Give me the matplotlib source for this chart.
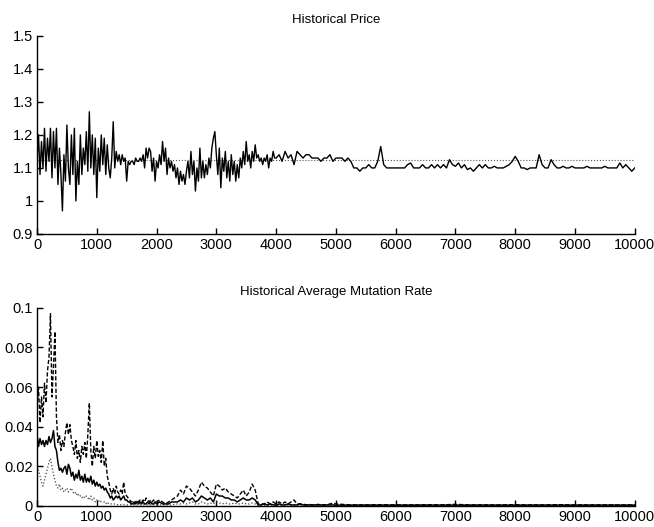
import numpy as np
import matplotlib
matplotlib.use('Agg')
import matplotlib.pyplot as plt

plt.rcParams['font.family'] = ['Liberation Sans', 'DejaVu Sans']
plt.rcParams.update({'font.size': 10.5})

# ---- historical price (0..3975 every 25, then 4000..10000 every 50) ----
price_fine = [
    1.12, 1.20, 1.08, 1.18, 1.10, 1.22, 1.09, 1.19, 1.12, 1.22,
    1.07, 1.21, 1.10, 1.22, 1.05, 1.16, 1.08, 0.97, 1.14, 1.06,
    1.23, 1.10, 1.05, 1.20, 1.08, 1.22, 1.00, 1.12, 1.05, 1.20,
    1.08, 1.16, 1.11, 1.21, 1.09, 1.27, 1.10, 1.20, 1.08, 1.19,
    1.01, 1.16, 1.09, 1.20, 1.11, 1.19, 1.08, 1.17, 1.10, 1.07,
    1.13, 1.24, 1.10, 1.15, 1.12, 1.14, 1.11, 1.14, 1.12, 1.13,
    1.06, 1.12, 1.11, 1.12, 1.12, 1.11, 1.13, 1.12, 1.12, 1.13,
    1.12, 1.14, 1.10, 1.16, 1.13, 1.16, 1.15, 1.09, 1.13, 1.06,
    1.12, 1.10, 1.14, 1.11, 1.18, 1.12, 1.16, 1.08, 1.13, 1.10,
    1.12, 1.09, 1.11, 1.07, 1.10, 1.05, 1.09, 1.06, 1.08, 1.05,
    1.09, 1.12, 1.07, 1.15, 1.08, 1.12, 1.03, 1.10, 1.06, 1.16,
    1.07, 1.12, 1.07, 1.11, 1.08, 1.13, 1.10, 1.16, 1.19, 1.21,
    1.14, 1.08, 1.16, 1.04, 1.13, 1.09, 1.15, 1.07, 1.12, 1.06,
    1.14, 1.08, 1.12, 1.06, 1.11, 1.07, 1.13, 1.10, 1.15, 1.11,
    1.18, 1.12, 1.14, 1.10, 1.15, 1.12, 1.17, 1.13, 1.14, 1.12,
    1.13, 1.11, 1.13, 1.12, 1.14, 1.10, 1.13, 1.12, 1.15, 1.13,
]
price_coarse = [
    1.13, 1.14, 1.12, 1.15, 1.13, 1.14, 1.11, 1.15, 1.14, 1.13,
    1.14, 1.14, 1.13, 1.13, 1.13, 1.12, 1.13, 1.13, 1.14, 1.12,
    1.13, 1.13, 1.13, 1.12, 1.13, 1.12, 1.10, 1.10, 1.09, 1.10,
    1.10, 1.11, 1.10, 1.10, 1.12, 1.165, 1.11, 1.10, 1.10, 1.10,
    1.10, 1.10, 1.10, 1.10, 1.11, 1.115, 1.10, 1.10, 1.10, 1.11,
    1.10, 1.10, 1.11, 1.10, 1.11, 1.10, 1.11, 1.10, 1.125, 1.11,
    1.105, 1.115, 1.10, 1.11, 1.095, 1.10, 1.09, 1.10, 1.11, 1.10,
    1.11, 1.10, 1.10, 1.105, 1.10, 1.10, 1.10, 1.105, 1.11, 1.12,
    1.135, 1.12, 1.10, 1.10, 1.095, 1.10, 1.10, 1.10, 1.14, 1.11,
    1.10, 1.10, 1.125, 1.11, 1.10, 1.10, 1.105, 1.10, 1.10, 1.105,
    1.10, 1.10, 1.10, 1.10, 1.105, 1.10, 1.10, 1.10, 1.10, 1.10,
    1.105, 1.10, 1.10, 1.10, 1.10, 1.115, 1.10, 1.11, 1.10, 1.09,
    1.10,
]
target_price = 1.124

# ---- average mutation rate (0..1975 every 25, 2000..4950 every 50, 5000..10000 every 250) ----
rate_dash_fine = [
    0.050, 0.060, 0.042, 0.055, 0.045, 0.062, 0.052, 0.068, 0.075, 0.097,
    0.055, 0.070, 0.088, 0.045, 0.032, 0.036, 0.028, 0.033, 0.030, 0.037,
    0.042, 0.036, 0.041, 0.033, 0.030, 0.026, 0.033, 0.024, 0.028, 0.022,
    0.030, 0.026, 0.032, 0.024, 0.036, 0.052, 0.028, 0.020, 0.030, 0.024,
    0.033, 0.025, 0.028, 0.022, 0.033, 0.020, 0.024, 0.015, 0.012, 0.008,
    0.006, 0.009, 0.006, 0.010, 0.007, 0.006, 0.008, 0.006, 0.012, 0.006,
    0.005, 0.004, 0.003, 0.002, 0.002, 0.001, 0.002, 0.003, 0.002, 0.003,
    0.002, 0.003, 0.002, 0.004, 0.003, 0.002, 0.003, 0.002, 0.003, 0.002,
]
rate_dash_mid = [
    0.002, 0.003, 0.002, 0.001, 0.002, 0.003, 0.004, 0.005, 0.008, 0.006,
    0.010, 0.009, 0.007, 0.005, 0.008, 0.012, 0.010, 0.009, 0.007, 0.005,
    0.011, 0.010, 0.008, 0.009, 0.007, 0.006, 0.005, 0.004, 0.006, 0.008,
    0.005, 0.007, 0.011, 0.008, 0.001, 0.001, 0.001, 0.002, 0.001, 0.002,
    0.001, 0.002, 0.001, 0.002, 0.001, 0.002, 0.003, 0.001, 0.001, 0.001,
    0.0005, 0.0008, 0.0005, 0.0005, 0.0008, 0.0005, 0.0005, 0.0005, 0.001, 0.0015,
]
rate_dash_coarse = [
    0.001, 0.0005, 0.0005, 0.0006, 0.0005, 0.0005, 0.0006, 0.0005, 0.0008, 0.0005,
    0.0005, 0.0005, 0.0006, 0.0005, 0.0005, 0.0006, 0.0005, 0.0005, 0.0005, 0.0005,
    0.0005,
]

rate_solid_fine = [
    0.036, 0.030, 0.034, 0.031, 0.033, 0.030, 0.033, 0.031, 0.035, 0.032,
    0.034, 0.038, 0.030, 0.028, 0.022, 0.018, 0.019, 0.017, 0.019, 0.020,
    0.016, 0.021, 0.019, 0.015, 0.017, 0.013, 0.016, 0.014, 0.018, 0.013,
    0.015, 0.012, 0.016, 0.012, 0.014, 0.012, 0.015, 0.011, 0.013, 0.010,
    0.012, 0.010, 0.011, 0.009, 0.010, 0.008, 0.009, 0.007, 0.006, 0.004,
    0.005, 0.003, 0.004, 0.005, 0.004, 0.005, 0.003, 0.004, 0.005, 0.003,
    0.003, 0.002, 0.002, 0.001, 0.001, 0.002, 0.001, 0.002, 0.001, 0.002,
    0.001, 0.002, 0.001, 0.001, 0.002, 0.001, 0.002, 0.001, 0.001, 0.002,
]
rate_solid_mid = [
    0.001, 0.002, 0.001, 0.001, 0.001, 0.002, 0.002, 0.002, 0.003, 0.002,
    0.004, 0.003, 0.004, 0.002, 0.003, 0.005, 0.004, 0.003, 0.004, 0.002,
    0.006, 0.005, 0.005, 0.004, 0.004, 0.003, 0.003, 0.002, 0.003, 0.004,
    0.003, 0.003, 0.004, 0.003, 0.0005, 0.0005, 0.001, 0.0005, 0.001, 0.0005,
    0.0005, 0.001, 0.0005, 0.0005, 0.001, 0.0005, 0.0005, 0.0005, 0.001, 0.0005,
    0.0005, 0.0005, 0.0005, 0.0005, 0.0005, 0.0005, 0.0005, 0.0005, 0.0005, 0.0005,
]
rate_solid_coarse = [0.0004] * 21

rate_dot_fine = [
    0.020, 0.018, 0.015, 0.012, 0.010, 0.013, 0.016, 0.019, 0.022, 0.024,
    0.020, 0.016, 0.013, 0.010, 0.009, 0.011, 0.008, 0.009, 0.007, 0.008,
    0.009, 0.007, 0.008, 0.009, 0.007, 0.006, 0.007, 0.005, 0.006, 0.005,
    0.004, 0.005, 0.004, 0.005, 0.004, 0.003, 0.005, 0.003, 0.004, 0.002,
    0.003, 0.002, 0.003, 0.002, 0.002, 0.002, 0.001, 0.002, 0.001, 0.001,
    0.001, 0.0008, 0.001, 0.0008, 0.0006, 0.0008, 0.0006, 0.0005, 0.0006, 0.0005,
    0.0005, 0.0005, 0.0005, 0.0005, 0.0005, 0.0005, 0.0005, 0.0005, 0.0005, 0.0005,
    0.0005, 0.0005, 0.0005, 0.0005, 0.0005, 0.0005, 0.0005, 0.0005, 0.0005, 0.0005,
]
rate_dot_mid = [
    0.0005, 0.0005, 0.0005, 0.0005, 0.0005, 0.0005, 0.0008, 0.001, 0.001, 0.0015,
    0.001, 0.0015, 0.002, 0.001, 0.001, 0.002, 0.0015, 0.001, 0.0015, 0.001,
    0.002, 0.0015, 0.001, 0.0015, 0.001, 0.001, 0.0015, 0.001, 0.001, 0.0015,
    0.001, 0.001, 0.0015, 0.001, 0.0003, 0.0003, 0.0003, 0.0003, 0.0003, 0.0003,
    0.0003, 0.0003, 0.0003, 0.0003, 0.0003, 0.0003, 0.0003, 0.0003, 0.0003, 0.0003,
    0.0003, 0.0003, 0.0003, 0.0003, 0.0003, 0.0003, 0.0003, 0.0003, 0.0003, 0.0003,
]
rate_dot_coarse = [0.0003] * 21

x_ticks = list(range(0, 10001, 1000))
price_ticks = [0.9, 1.0, 1.1, 1.2, 1.3, 1.4, 1.5]
price_tick_labels = ['0.9', '1', '1.1', '1.2', '1.3', '1.4', '1.5']
rate_ticks = [0, 0.02, 0.04, 0.06, 0.08, 0.1]
rate_tick_labels = ['0', '0.02', '0.04', '0.06', '0.08', '0.1']


def segment_x(start, step, values):
    return start + step * np.arange(len(values))


def join_segments(segments):
    xs = np.concatenate([segment_x(s, d, v) for s, d, v in segments])
    ys = np.concatenate([np.asarray(v, dtype=float) for _, _, v in segments])
    return xs, ys


def style_axes(ax):
    ax.spines['top'].set_visible(False)
    ax.spines['right'].set_visible(False)
    ax.spines['left'].set_linewidth(1.0)
    ax.spines['bottom'].set_linewidth(1.0)
    ax.tick_params(direction='in', length=4, width=1.0, labelsize=10.5, pad=3)
    ax.set_xlim(0, 10000)
    ax.set_xticks(x_ticks)


fig = plt.figure(figsize=(6.54, 5.27), dpi=100)
ax1 = fig.add_axes([0.0566, 0.556, 0.914, 0.376])
ax2 = fig.add_axes([0.0566, 0.040, 0.914, 0.376])

px, py = join_segments([(0, 25, price_fine), (4000, 50, price_coarse)])
ax1.plot([0, 10000], [target_price, target_price], color='#555555', linestyle=':', linewidth=0.8)
ax1.plot(px, py, color='black', linewidth=1.0)
style_axes(ax1)
ax1.set_ylim(0.9, 1.5)
ax1.set_yticks(price_ticks)
ax1.set_yticklabels(price_tick_labels)
ax1.set_title('Historical Price', fontsize=9.5, pad=9)

dx, dy = join_segments([(0, 25, rate_dash_fine), (2000, 50, rate_dash_mid), (5000, 250, rate_dash_coarse)])
sx, sy = join_segments([(0, 25, rate_solid_fine), (2000, 50, rate_solid_mid), (5000, 250, rate_solid_coarse)])
tx, ty = join_segments([(0, 25, rate_dot_fine), (2000, 50, rate_dot_mid), (5000, 250, rate_dot_coarse)])
ax2.plot(tx, ty, color='#444444', linestyle=':', linewidth=0.9)
ax2.plot(dx, dy, color='black', linestyle='--', linewidth=1.0, dashes=(3, 1.5))
ax2.plot(sx, sy, color='black', linewidth=1.1)
style_axes(ax2)
ax2.set_ylim(0, 0.1)
ax2.set_yticks(rate_ticks)
ax2.set_yticklabels(rate_tick_labels)
ax2.set_title('Historical Average Mutation Rate', fontsize=9.5, pad=9)

fig.savefig('out.png', dpi=100)
